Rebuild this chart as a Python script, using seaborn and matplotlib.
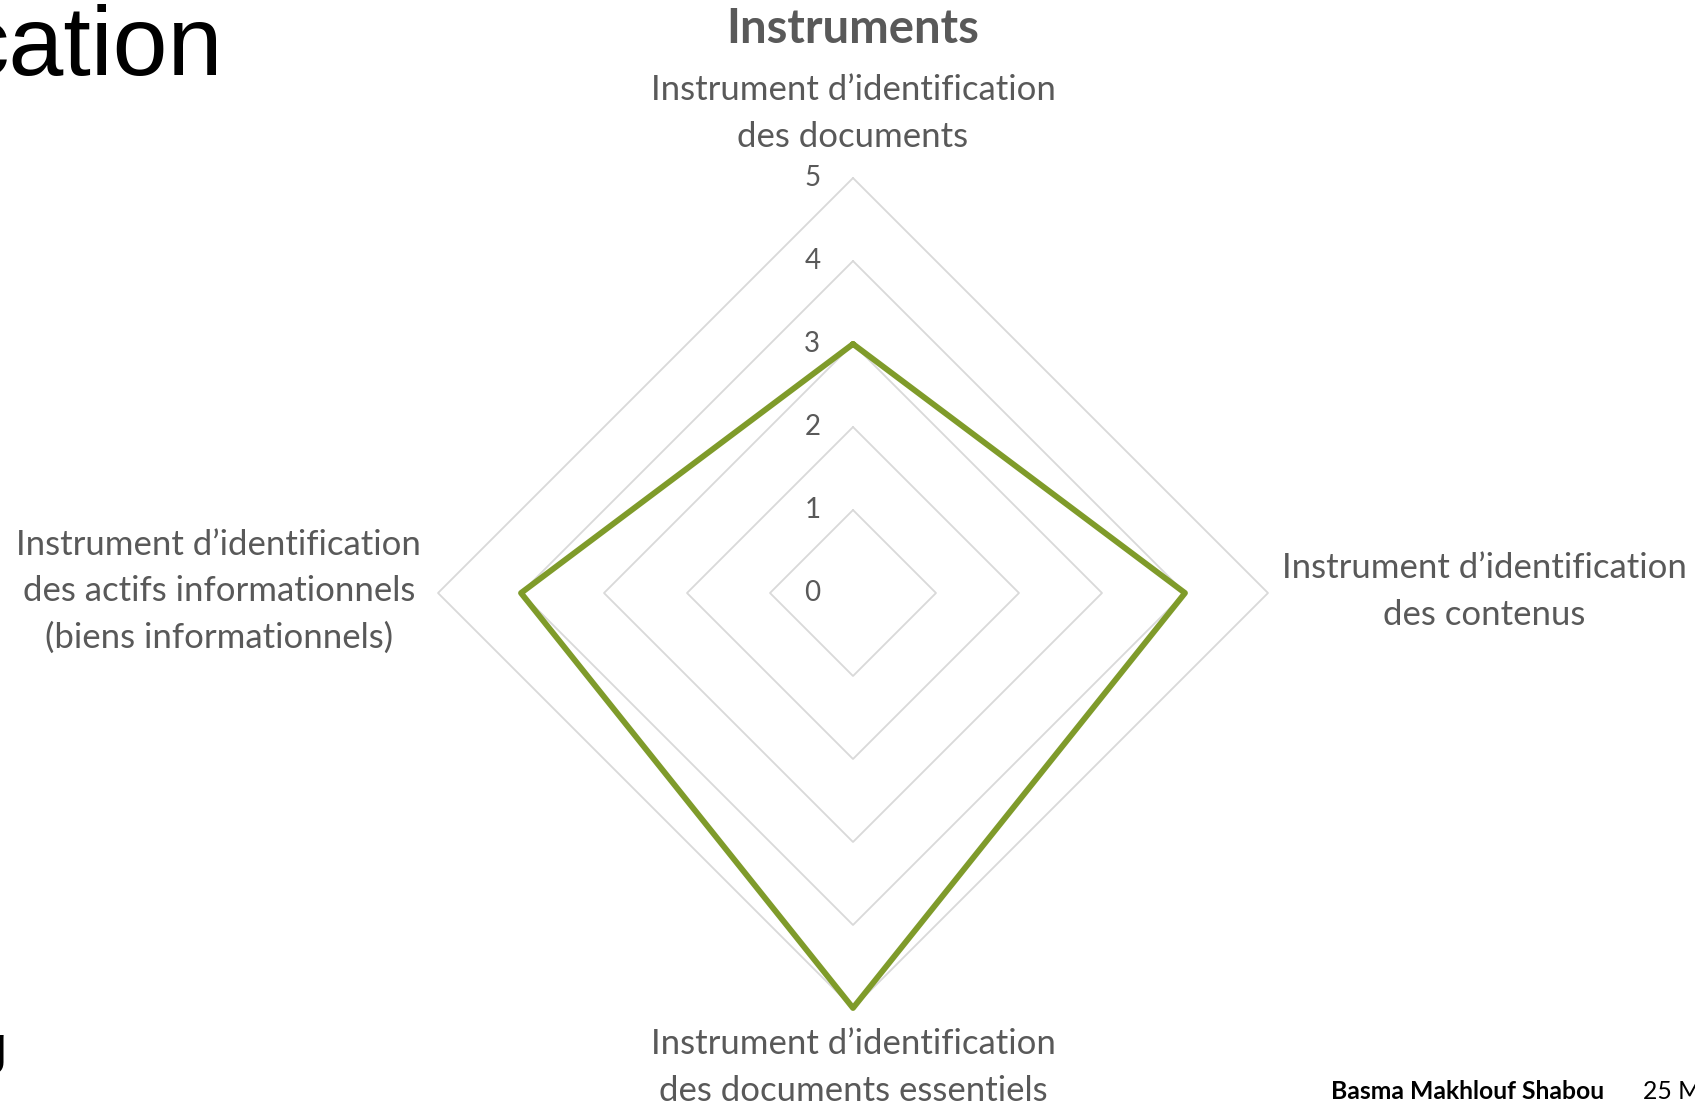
import numpy as np
import pandas as pd
import matplotlib.pyplot as plt
import seaborn as sns

# data
categories = ["Instrument d’identification\ndes documents",
              "Instrument d’identification\ndes contenus",
              "Instrument d’identification\ndes documents essentiels",
              "Instrument d’identification\ndes actifs informationnels\n(biens informationnels)"]
scores = [3, 4, 5, 4]
levels = [0, 1, 2, 3, 4, 5]
chart_title = "Instruments"

sns.set_theme(style="white")
plt.rcParams['font.family'] = ['Lato', 'DejaVu Sans']

fig = plt.figure(figsize=(16.95, 11.06), dpi=100)
ax = fig.add_axes([0, 0, 1, 1])

# one data unit = 83 px, centre of the radar at (853, 593) px from top-left
unit = 83.0
cx, cy = 853, 593
ax.set_xlim(-cx / unit, (1695 - cx) / unit)
ax.set_ylim((cy - 1106) / unit, cy / unit)
ax.axis('off')

ang = np.arange(len(categories)) * 2 * np.pi / len(categories)  # clockwise from top
ux, uy = np.sin(ang), np.cos(ang)


def closed(a):
    return np.append(a, a[0])


# diamond grid rings
for lv in levels[1:]:
    ax.plot(closed(lv * ux), closed(lv * uy), color='#D9D9D9', lw=1.3, zorder=1)

df = pd.DataFrame({'x': closed(np.array(scores) * ux),
                   'y': closed(np.array(scores) * uy)})
sns.lineplot(data=df, x='x', y='y', sort=False, estimator=None,
             color='#7F9B2A', lw=4.2, ax=ax, zorder=3)

grey = '#595959'
for lv in levels:
    ax.text(-0.49, lv, str(lv), ha='center', va='center', color=grey, fontsize=20)

# category label centres (data units)
label_pos = [(0, 5.78), (7.61, 0.02), (0, -5.72), (-7.64, 0.02)]
for lab, (lx, ly) in zip(categories, label_pos):
    ax.text(lx, ly, lab, ha='center', va='center', multialignment='center',
            color=grey, fontsize=25, linespacing=1.56)

ax.text(0, 6.80, chart_title, ha='center', va='center', color=grey,
        fontsize=34, fontweight='bold')

# slide remnants around the chart
fig.text(223 / 1695, 1 - 75 / 1106, "cation", ha='right', va='baseline',
         fontsize=71, color='black', family='Liberation Sans')
fig.text(7 / 1695, 1 - 1063 / 1106, "g", ha='right', va='baseline',
         fontsize=39, color='black', family='Liberation Sans')
fig.text(1331 / 1695, 1 - 1099 / 1106, "Basma Makhlouf Shabou", ha='left',
         va='baseline', fontsize=17.8, fontweight='bold', color='black')
fig.text(1643 / 1695, 1 - 1099 / 1106, "25 M", ha='left', va='baseline',
         fontsize=17.8, color='black')

fig.savefig("out.png", dpi=100)
